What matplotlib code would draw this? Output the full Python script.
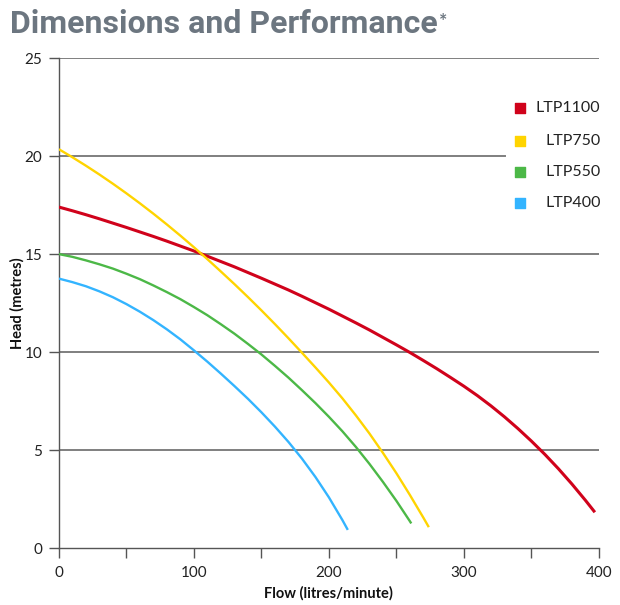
import matplotlib.pyplot as plt
import numpy as np

# Data (flow in litres/minute, head in metres)
flow_1100 = [0, 10, 20, 30, 40, 50, 60, 70, 80, 90, 100, 110, 120, 130, 140, 150, 160, 170, 180, 190,
             200, 210, 220, 230, 240, 250, 260, 270, 280, 290, 300, 310, 320, 330, 340, 350, 360, 370,
             380, 390, 397]
head_1100 = [17.40, 17.21, 17.01, 16.80, 16.58, 16.36, 16.13, 15.90, 15.66, 15.41, 15.16, 14.89, 14.62,
             14.35, 14.06, 13.77, 13.47, 13.17, 12.85, 12.52, 12.19, 11.84, 11.49, 11.13, 10.75, 10.37,
             9.98, 9.57, 9.15, 8.71, 8.26, 7.78, 7.26, 6.70, 6.10, 5.46, 4.78, 4.05, 3.27, 2.44, 1.83]

flow_750 = [0, 10, 20, 30, 40, 50, 60, 70, 80, 90, 100, 110, 120, 130, 140, 150, 160, 170, 180, 190,
            200, 210, 220, 230, 240, 250, 260, 270, 274]
head_750 = [20.35, 19.94, 19.51, 19.06, 18.59, 18.10, 17.59, 17.06, 16.51, 15.94, 15.35, 14.74, 14.11,
            13.47, 12.81, 12.13, 11.43, 10.71, 9.97, 9.22, 8.45, 7.64, 6.77, 5.85, 4.86, 3.82, 2.71,
            1.55, 1.07]

flow_550 = [0, 10, 20, 30, 40, 50, 60, 70, 80, 90, 100, 110, 120, 130, 140, 150, 160, 170, 180, 190,
            200, 210, 220, 230, 240, 250, 260, 261]
head_550 = [15.00, 14.86, 14.68, 14.48, 14.26, 14.00, 13.72, 13.40, 13.06, 12.70, 12.30, 11.88, 11.42,
            10.94, 10.42, 9.88, 9.30, 8.70, 8.06, 7.40, 6.70, 5.96, 5.16, 4.30, 3.38, 2.41, 1.37, 1.26]

flow_400 = [0, 10, 20, 30, 40, 50, 60, 70, 80, 90, 100, 110, 120, 130, 140, 150, 160, 170, 180, 190,
            200, 210, 214]
head_400 = [13.75, 13.57, 13.36, 13.10, 12.80, 12.45, 12.06, 11.63, 11.16, 10.65, 10.09, 9.51, 8.90,
            8.27, 7.62, 6.93, 6.20, 5.42, 4.57, 3.63, 2.59, 1.43, 0.93]

models = ['LTP1100', 'LTP750', 'LTP550', 'LTP400']
colors = ['#d0021b', '#ffd400', '#4cb847', '#33b4ff']
flows = [flow_1100, flow_750, flow_550, flow_400]
heads = [head_1100, head_750, head_550, head_400]

x_ticks = [0, 100, 200, 300, 400]
y_ticks = [0, 5, 10, 15, 20, 25]

plt.rcParams['font.family'] = ['Lato', 'DejaVu Sans']

fig = plt.figure(figsize=(6.2, 6.05), dpi=100)
ax = fig.add_axes([0.095, 0.094, 0.871, 0.81])

# horizontal grid lines (the 20 line stops short of the legend)
for yv in [5, 10, 15, 20, 25]:
    xmax = 0.826 if yv == 20 else 1.0
    ax.axhline(yv, xmin=0, xmax=xmax, color='#7f7f7f', lw=1.4, zorder=1)

for f, h, c, m in zip(flows, heads, colors, models):
    lw = 2.2 if m == 'LTP1100' else 1.7
    ax.plot(f, h, color=c, lw=lw, zorder=3, solid_capstyle='butt', solid_joinstyle='round')

ax.set_xlim(0, 400)
ax.set_ylim(0, 25)
ax.set_xticks(x_ticks)
ax.set_xticks(np.arange(0, 401, 50), minor=True)
ax.set_yticks(y_ticks)

for s in ['top', 'right']:
    ax.spines[s].set_visible(False)
for s in ['left', 'bottom']:
    ax.spines[s].set_color('#555555')
    ax.spines[s].set_linewidth(1.0)

ax.tick_params(axis='x', which='both', direction='out', length=7, width=1, color='#555555',
               labelsize=11, labelcolor='#222222', pad=6)
ax.tick_params(axis='y', direction='out', length=7, width=1, color='#555555',
               labelsize=11, labelcolor='#222222', pad=5)

ax.set_xlabel('Flow (litres/minute)', fontsize=10.5, fontweight='bold', color='#111111', labelpad=4)
ax.set_ylabel('Head (metres)', fontsize=10.5, fontweight='bold', color='#111111', labelpad=0)

# legend drawn by hand: square on the left, name right-aligned
leg_y = [0.898, 0.831, 0.767, 0.704]
for yy, c, m in zip(leg_y, colors, models):
    ax.scatter([0.854], [yy], marker='s', s=55, color=c, transform=ax.transAxes,
               clip_on=False, zorder=4)
    ax.text(1.003, yy, m, transform=ax.transAxes, ha='right', va='center',
            fontsize=11.5, color='#222222')

# title with small superscript asterisk
title = fig.text(0.016, 0.945, 'Dimensions and Performance', fontsize=23,
                 fontweight='bold', color='#6c7680', family=['Roboto', 'DejaVu Sans'],
                 va='baseline', ha='left')
fig.canvas.draw()
bb = title.get_window_extent()
fig.text(bb.x1 / fig.bbox.width + 0.002, bb.y1 / fig.bbox.height - 0.006, '*',
         fontsize=14, fontweight='bold', color='#6c7680', va='top', ha='left')

fig.savefig('out.png', dpi=100)
